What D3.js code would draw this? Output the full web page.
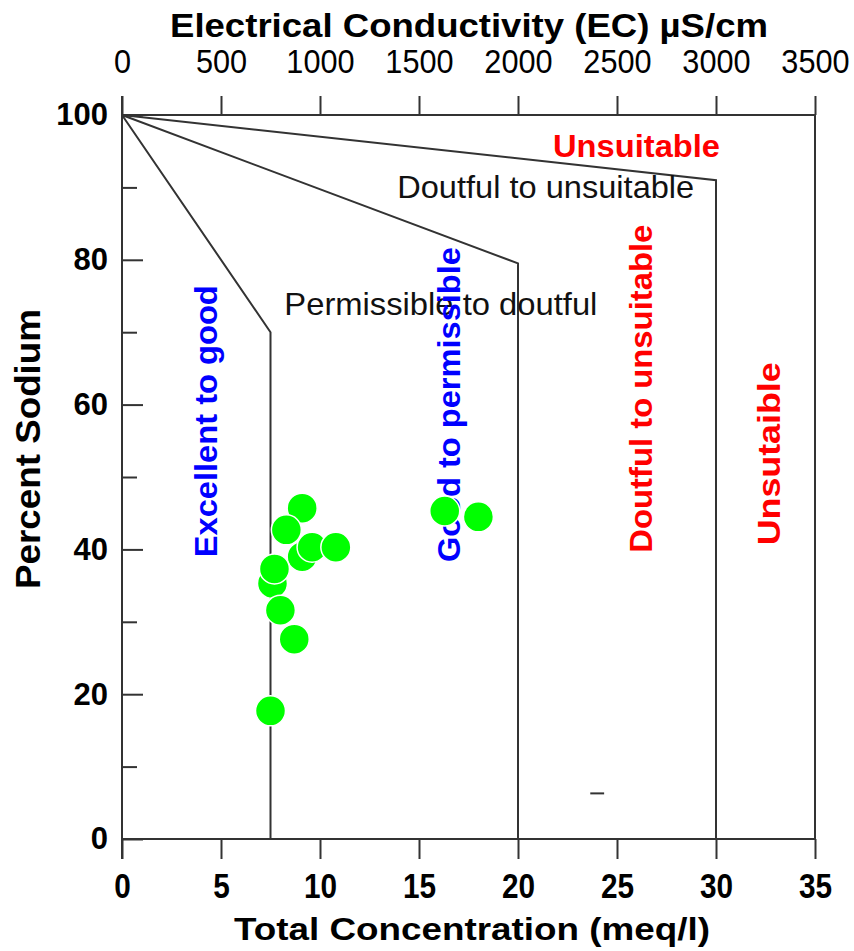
<!DOCTYPE html>
<html>
<head>
<meta charset="utf-8">
<script src="https://cdn.jsdelivr.net/npm/d3@7"></script>
<style>
  html, body { margin: 0; padding: 0; background: #fff; }
  svg { display: block; }
</style>
</head>
<body>
<svg id="chart" width="854" height="951"></svg>
<script>
// ---- Data ----
const totalConc = [9.1, 8.3, 9.1, 9.6, 10.8, 7.6, 7.7, 8.0, 8.7, 7.5, 16.3, 18.0];   // meq/l
const percentNa = [45.7, 42.7, 39.0, 40.3, 40.3, 35.3, 37.3, 31.6, 27.6, 17.7, 45.3, 44.5];
const xTicks = [0, 5, 10, 15, 20, 25, 30, 35];
const ecTicks = [0, 500, 1000, 1500, 2000, 2500, 3000, 3500];
const yMajorTicks = [0, 20, 40, 60, 80, 100];
const yMinorTicks = [10, 30, 50, 70, 90];
// boundary lines (Total conc, %Na)
const boundaryExcellent = [[0, 100], [7.5, 70], [7.5, 0]];
const boundaryGood = [[0, 100], [20, 79.5], [20, 0]];
const boundaryDoubtful = [[0, 100], [30, 91], [30, 0]];
const frameLines = [[0, 100], [35, 100], [35, 0], [0, 0]];
const strayMark = [[23.65, 6.3], [24.35, 6.3]];
// zone labels: text, x, y (data units), rotated?, colour, weight
const zoneLabels = [
  { text: "Unsuitable", x: 21.77, y: 94.2, rot: false, color: "#ff0000", bold: true, len: 167 },
  { text: "Doutful to unsuitable", x: 13.9, y: 88.6, rot: false, color: "#111111", bold: false, len: 297 },
  { text: "Permissible to doutful", x: 8.2, y: 72.4, rot: false, color: "#111111", bold: false, len: 313 },
  { text: "Excellent to good", x: 4.8, y: 57.7, rot: true, color: "#0000ff", bold: true, len: 272 },
  { text: "Good to permissible", x: 17.07, y: 60.0, rot: true, color: "#0000ff", bold: true, len: 315 },
  { text: "Doutful to unsuitable", x: 26.77, y: 62.2, rot: true, color: "#ff0000", bold: true, len: 328 },
  { text: "Unsutaible", x: 33.23, y: 53.2, rot: true, color: "#ff0000", bold: true, len: 183 }
];

// ---- Scales ----
const svg = d3.select("#chart");
const x = d3.scaleLinear().domain([0, 35]).range([122, 815]);
const ec = d3.scaleLinear().domain([0, 3500]).range([122, 815]);
const y = d3.scaleLinear().domain([0, 100]).range([839, 115]);
const line = d3.line().x(d => x(d[0])).y(d => y(d[1]));
const lineColor = "#333333";

// ---- Axes ----
const bottomAxis = svg.append("g").attr("transform", `translate(0,${y(0)})`)
  .call(d3.axisBottom(x).tickValues(xTicks).tickSize(20).tickPadding(14).tickFormat(d3.format("d")));
bottomAxis.selectAll("text").attr("font-family", "'Liberation Sans', Arial, sans-serif")
  .attr("font-size", 35).attr("font-weight", "bold").attr("fill", "#000")
  .attr("transform", "scale(0.85,1)");

const topAxis = svg.append("g").attr("transform", `translate(0,${y(100)})`)
  .call(d3.axisTop(ec).tickValues(ecTicks).tickSize(19).tickPadding(23).tickFormat(d3.format("d")));
topAxis.selectAll("text").attr("font-family", "'Liberation Sans', Arial, sans-serif")
  .attr("font-size", 33).attr("fill", "#000")
  .attr("transform", "scale(0.93,1)");

const leftAxis = svg.append("g").attr("transform", `translate(${x(0)},0)`)
  .call(d3.axisLeft(y).tickValues(yMajorTicks).tickSizeInner(-21).tickSizeOuter(0).tickPadding(14));
leftAxis.selectAll("text").attr("font-family", "'Liberation Sans', Arial, sans-serif")
  .attr("font-size", 31).attr("font-weight", "bold").attr("fill", "#000");

const leftMinor = svg.append("g").attr("transform", `translate(${x(0)},0)`)
  .call(d3.axisLeft(y).tickValues(yMinorTicks).tickSizeInner(-15).tickSizeOuter(0).tickFormat(""));

[bottomAxis, topAxis, leftAxis, leftMinor].forEach(g => {
  g.select(".domain").remove();
  g.selectAll(".tick line").attr("stroke", lineColor).attr("stroke-width", 2);
});

// left axis line spanning from bottom tick to top tick
svg.append("line").attr("x1", x(0)).attr("x2", x(0))
  .attr("y1", y(0) + 20).attr("y2", y(100) - 19)
  .attr("stroke", lineColor).attr("stroke-width", 2);

// frame
svg.append("path").datum(frameLines).attr("d", line)
  .attr("fill", "none").attr("stroke", lineColor).attr("stroke-width", 2);

// boundaries
[boundaryExcellent, boundaryGood, boundaryDoubtful].forEach(b => {
  svg.append("path").datum(b).attr("d", line)
    .attr("fill", "none").attr("stroke", lineColor).attr("stroke-width", 2);
});

svg.append("path").datum(strayMark).attr("d", line)
  .attr("fill", "none").attr("stroke", lineColor).attr("stroke-width", 2);

// ---- Axis titles ----
svg.append("text").attr("x", 469).attr("y", 37).attr("text-anchor", "middle")
  .attr("font-family", "'Liberation Sans', Arial, sans-serif")
  .attr("font-size", 33).attr("font-weight", "bold").attr("fill", "#000")
  .attr("textLength", 598).attr("lengthAdjust", "spacingAndGlyphs")
  .text("Electrical Conductivity (EC) µS/cm");

svg.append("text").attr("x", 472).attr("y", 940).attr("text-anchor", "middle")
  .attr("font-family", "'Liberation Sans', Arial, sans-serif")
  .attr("font-size", 32).attr("font-weight", "bold").attr("fill", "#000")
  .attr("textLength", 476).attr("lengthAdjust", "spacingAndGlyphs")
  .text("Total Concentration (meq/l)");

svg.append("text").attr("transform", `translate(40,449) rotate(-90)`).attr("text-anchor", "middle")
  .attr("font-family", "'Liberation Sans', Arial, sans-serif")
  .attr("font-size", 35).attr("font-weight", "bold").attr("fill", "#000")
  .attr("textLength", 280).attr("lengthAdjust", "spacingAndGlyphs")
  .text("Percent Sodium");

// ---- Zone labels ----
zoneLabels.forEach(l => {
  const t = svg.append("text")
    .attr("font-family", "'Liberation Sans', Arial, sans-serif")
    .attr("font-size", 32).attr("font-weight", l.bold ? "bold" : "normal")
    .attr("fill", l.color)
    .attr("textLength", l.len).attr("lengthAdjust", "spacingAndGlyphs")
    .text(l.text);
  if (l.rot) {
    t.attr("transform", `translate(${x(l.x)},${y(l.y)}) rotate(-90)`).attr("text-anchor", "middle");
  } else {
    t.attr("x", x(l.x)).attr("y", y(l.y)).attr("text-anchor", "start");
  }
});

// ---- Points ----
svg.append("g").selectAll("circle")
  .data(totalConc.map((v, i) => [v, percentNa[i]]))
  .join("circle")
  .attr("cx", d => x(d[0])).attr("cy", d => y(d[1])).attr("r", 15)
  .attr("fill", "#00ff00").attr("stroke", "#ffffff").attr("stroke-width", 1.5);
</script>
</body>
</html>
